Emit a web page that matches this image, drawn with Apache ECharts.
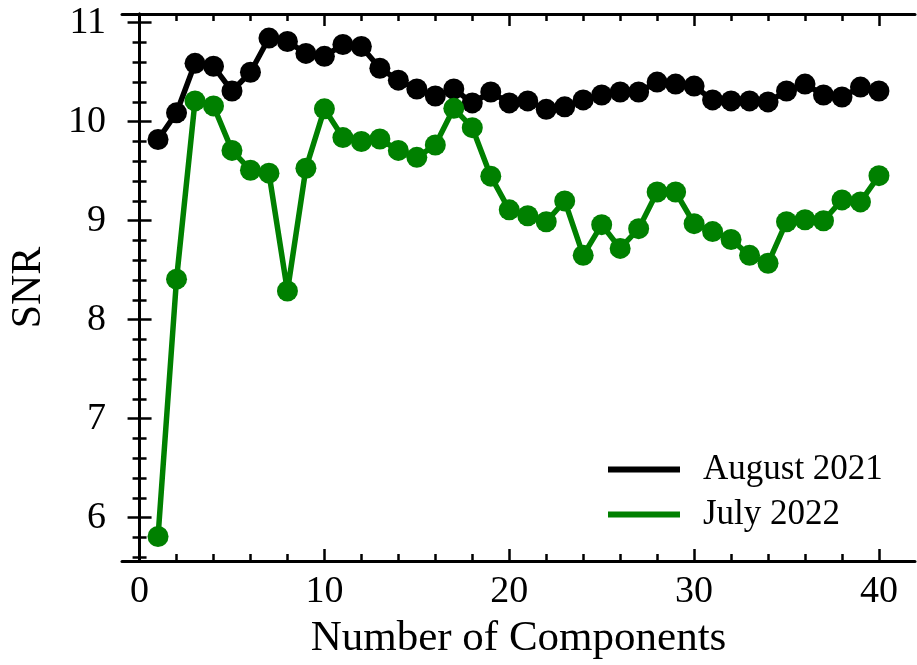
<!DOCTYPE html>
<html>
<head>
<meta charset="utf-8">
<script src="https://cdn.jsdelivr.net/npm/echarts@6/dist/echarts.min.js"></script>
<style>
html,body{margin:0;padding:0;background:#fff;}
#chart{width:917px;height:665px;}
</style>
</head>
<body>
<div id="chart"></div>
<script>
const components = [1,2,3,4,5,6,7,8,9,10,11,12,13,14,15,16,17,18,19,20,21,22,23,24,25,26,27,28,29,30,31,32,33,34,35,36,37,38,39,40];
const august2021 = [9.82,10.09,10.59,10.56,10.31,10.50,10.845,10.81,10.69,10.66,10.78,10.76,10.54,10.42,10.33,10.26,10.33,10.19,10.30,10.19,10.21,10.125,10.15,10.22,10.27,10.30,10.30,10.40,10.38,10.36,10.22,10.21,10.21,10.20,10.31,10.38,10.27,10.25,10.35,10.31];
const july2022 = [5.81,8.41,10.21,10.16,9.71,9.51,9.48,8.29,9.53,10.13,9.84,9.80,9.825,9.71,9.64,9.765,10.135,9.94,9.45,9.11,9.05,8.99,9.20,8.65,8.96,8.72,8.92,9.29,9.29,8.97,8.89,8.81,8.65,8.57,8.99,9.01,9.00,9.21,9.19,9.455];
const seriesNames = ['August 2021','July 2022'];
const xMajorTicks = [0,10,20,30,40];
const xMinorTicks = [2,4,6,8,12,14,16,18,22,24,26,28,32,34,36,38];
const yMajorTicks = [6,7,8,9,10,11];
const yMinorTicks = [5.6,5.8,6.2,6.4,6.6,6.8,7.2,7.4,7.6,7.8,8.2,8.4,8.6,8.8,9.2,9.4,9.6,9.8,10.2,10.4,10.6,10.8,11.0];
const xTitle = 'Number of Components';
const yTitle = 'SNR';

const FONT = '"Liberation Serif", "DejaVu Serif", serif';
const X_MIN = -0.95, X_MAX = 41.95, Y_MIN = 5.563, Y_MAX = 11.088;

function tickAxis(pos, vals, len, showLine) {
  const isX = pos === 'top' || pos === 'bottom';
  return {
    type: 'value', position: pos, min: isX ? X_MIN : Y_MIN, max: isX ? X_MAX : Y_MAX,
    axisLine: { show: showLine, lineStyle: { color: '#000', width: 3 } },
    axisTick: { show: true, inside: true, length: len, customValues: vals, lineStyle: { color: '#000', width: 2.5 } },
    axisLabel: { show: false },
    splitLine: { show: false }
  };
}

const chart = echarts.init(document.getElementById('chart'), null, { renderer: 'canvas' });
const xMain = tickAxis('bottom', xMajorTicks, 12, true);
xMain.axisLabel = { show: true, customValues: xMajorTicks, color: '#000', fontFamily: FONT, fontSize: 38, margin: 12 };
xMain.name = xTitle;
xMain.nameLocation = 'middle';
xMain.nameGap = 56;
xMain.nameTextStyle = { color: '#000', fontFamily: FONT, fontSize: 43 };

const yMain = tickAxis('left', yMajorTicks, 12, true);
yMain.axisLabel = { show: true, customValues: yMajorTicks, color: '#000', fontFamily: FONT, fontSize: 38, margin: 16 };
yMain.name = yTitle;
yMain.nameLocation = 'middle';
yMain.nameGap = 72;
yMain.nameTextStyle = { color: '#000', fontFamily: FONT, fontSize: 42 };

chart.setOption({
  animation: false,
  backgroundColor: '#fff',
  grid: { left: 122, top: 14, width: 793, height: 547, containLabel: false },
  xAxis: [
    xMain,
    tickAxis('bottom', xMinorTicks, 7, false),
    tickAxis('top', xMajorTicks, 12, true),
    tickAxis('top', xMinorTicks, 7, false)
  ],
  yAxis: [
    yMain,
    tickAxis('left', yMinorTicks, 7, false),
    tickAxis('right', yMajorTicks, 12, true),
    tickAxis('right', yMinorTicks, 7, false)
  ],
  legend: {
    left: 603, top: 447, orient: 'vertical',
    icon: 'rect', itemWidth: 72, itemHeight: 6, itemGap: 10,
    textStyle: { color: '#000', fontFamily: FONT, fontSize: 35, lineHeight: 35, padding: [0,0,0,18] },
    data: seriesNames
  },
  series: [
    {
      name: seriesNames[0], type: 'line', xAxisIndex: 0, yAxisIndex: 0,
      data: components.map((c, i) => [c, august2021[i]]),
      symbol: 'circle', symbolSize: 21, showAllSymbol: true,
      lineStyle: { color: '#000', width: 5.5 }, itemStyle: { color: '#000' }
    },
    {
      name: seriesNames[1], type: 'line', xAxisIndex: 0, yAxisIndex: 0,
      data: components.map((c, i) => [c, july2022[i]]),
      symbol: 'circle', symbolSize: 21, showAllSymbol: true,
      lineStyle: { color: '#008000', width: 5.5 }, itemStyle: { color: '#008000' }
    }
  ]
});
</script>
</body>
</html>
